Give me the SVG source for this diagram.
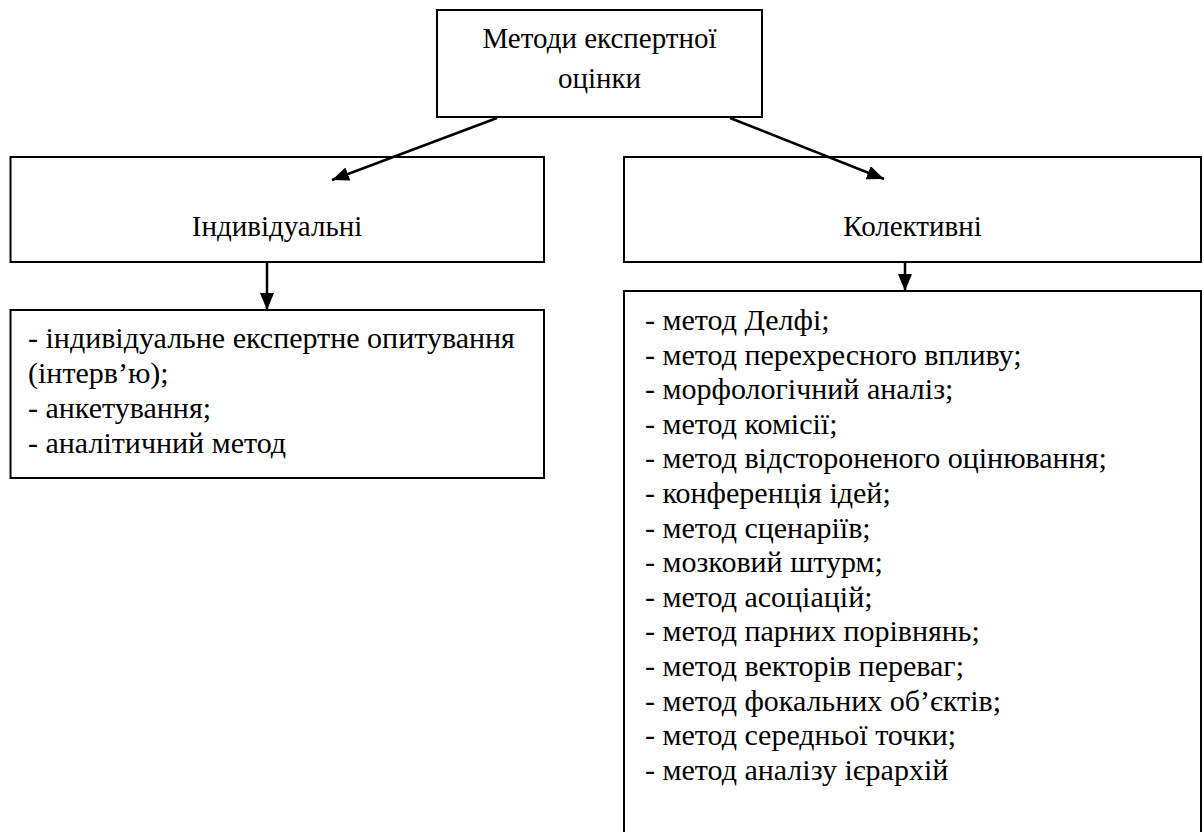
<svg xmlns="http://www.w3.org/2000/svg" width="1204" height="832" viewBox="0 0 1204 832">
  <style>
    .box { fill: #ffffff; stroke: #000000; stroke-width: 2; }
    .lbl { font-family: "Liberation Serif", "Times New Roman", serif; font-size: 29px; fill: #000000; }
    .item { font-family: "Liberation Serif", "Times New Roman", serif; font-size: 30px; fill: #000000; }
    .mid { text-anchor: middle; }
    .edge { stroke: #000000; stroke-width: 2.5; fill: none; marker-end: url(#arrow); }
  </style>
  <defs>
    <marker id="arrow" markerUnits="userSpaceOnUse" markerWidth="18" markerHeight="14" refX="17" refY="7" orient="auto">
      <path d="M0,0 L17,7 L0,14 Z" fill="#000000"/>
    </marker>
  </defs>
  <rect width="1204" height="832" fill="#ffffff"/>

  <!-- root: expert assessment methods -->
  <g id="node-root">
    <rect class="box" x="437" y="10" width="325" height="107"/>
    <text class="lbl mid" x="599.5" y="48">Методи експертної</text>
    <text class="lbl mid" x="599.5" y="88">оцінки</text>
  </g>

  <!-- individual methods -->
  <g id="node-individual">
    <rect class="box" x="10.5" y="157" width="533.5" height="105"/>
    <text class="lbl mid" x="277" y="236">Індивідуальні</text>
  </g>

  <!-- collective methods -->
  <g id="node-collective">
    <rect class="box" x="624" y="157" width="577" height="105"/>
    <text class="lbl mid" x="912.5" y="236">Колективні</text>
  </g>

  <!-- list of individual methods -->
  <g id="node-individual-list">
    <rect class="box" x="10.5" y="310" width="533.5" height="168"/>
    <text class="item" x="28" y="348">- індивідуальне експертне опитування</text>
    <text class="item" x="28" y="383">(інтерв’ю);</text>
    <text class="item" x="28" y="418">- анкетування;</text>
    <text class="item" x="28" y="453">- аналітичний метод</text>
  </g>

  <!-- list of collective methods (box runs past the bottom edge) -->
  <g id="node-collective-list">
    <path class="box" d="M624,840 L624,291 L1201,291 L1201,840" fill="#ffffff"/>
    <text class="item" x="645" y="330">- метод Делфі;</text>
    <text class="item" x="645" y="364.6">- метод перехресного впливу;</text>
    <text class="item" x="645" y="399.2">- морфологічний аналіз;</text>
    <text class="item" x="645" y="433.8">- метод комісії;</text>
    <text class="item" x="645" y="468.4">- метод відстороненого оцінювання;</text>
    <text class="item" x="645" y="503">- конференція ідей;</text>
    <text class="item" x="645" y="537.6">- метод сценаріїв;</text>
    <text class="item" x="645" y="572.2">- мозковий штурм;</text>
    <text class="item" x="645" y="606.8">- метод асоціацій;</text>
    <text class="item" x="645" y="641.4">- метод парних порівнянь;</text>
    <text class="item" x="645" y="676">- метод векторів переваг;</text>
    <text class="item" x="645" y="710.6">- метод фокальних об’єктів;</text>
    <text class="item" x="645" y="745.2">- метод середньої точки;</text>
    <text class="item" x="645" y="779.8">- метод аналізу ієрархій</text>
  </g>

  <!-- connectors -->
  <g id="connectors">
    <line class="edge" x1="497" y1="118" x2="332" y2="180"/>
    <line class="edge" x1="730" y1="118" x2="884" y2="179"/>
    <line class="edge" x1="267" y1="262" x2="267" y2="310"/>
    <line class="edge" x1="905" y1="262" x2="905" y2="291"/>
  </g>
</svg>
